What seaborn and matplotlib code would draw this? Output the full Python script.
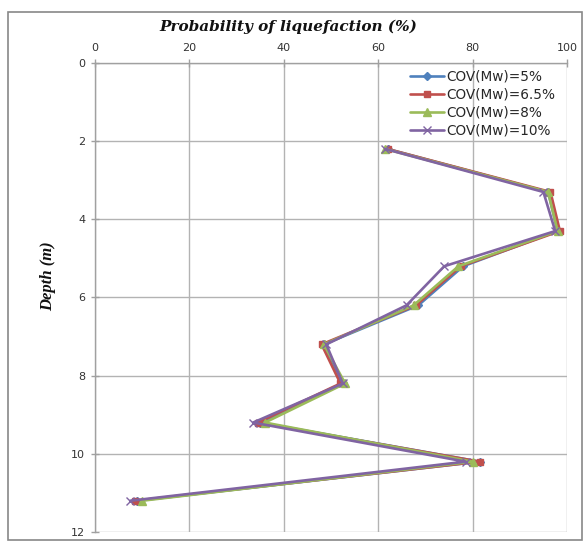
import matplotlib
matplotlib.use("Agg")
import matplotlib.pyplot as plt
import seaborn as sns
import pandas as pd
from matplotlib.patches import Rectangle

depth = [2.2, 3.3, 4.3, 5.2, 6.2, 7.2, 8.2, 9.2, 10.2, 11.2]
cov5 = [62, 96, 98, 78, 68.5, 48.5, 52.5, 35, 81.5, 9]
cov65 = [62, 96.5, 98.5, 77.5, 68, 48, 52, 34.5, 81.5, 8.5]
cov8 = [61.5, 96, 98, 77, 67.5, 48.5, 53, 36, 80, 10]
cov10 = [61.5, 95, 97.5, 74, 66, 49, 52.5, 33.5, 78.5, 7.5]
labels = ["COV(Mw)=5%", "COV(Mw)=6.5%", "COV(Mw)=8%", "COV(Mw)=10%"]
colors = ["#4F81BD", "#C0504D", "#9BBB59", "#8064A2"]
markers = ["D", "s", "^", "x"]
msizes = [4, 5, 5.5, 6]

sns.set_style("white")
fig = plt.figure(figsize=(5.87, 5.44), dpi=100)
ax = fig.add_axes([95 / 587, 1 - 532 / 544, (567 - 95) / 587, (532 - 63) / 544])

for lab, vals, c, m, ms in zip(labels, [cov5, cov65, cov8, cov10], colors, markers, msizes):
    df = pd.DataFrame({"prob": vals, "depth": depth})
    sns.lineplot(data=df, x="prob", y="depth", sort=False, estimator=None, ax=ax,
                 color=c, marker=m, markersize=ms, linewidth=1.9, label=lab,
                 markeredgecolor=c, markeredgewidth=1.0)

ax.set_xlim(0, 100)
ax.set_ylim(12, 0)
ax.set_xticks([0, 20, 40, 60, 80, 100])
ax.set_yticks([0, 2, 4, 6, 8, 10, 12])
ax.xaxis.tick_top()
ax.xaxis.set_label_position("top")
ax.grid(True, color="#b3b3b3", linewidth=1.0)
for s in ["right", "bottom"]:
    ax.spines[s].set_visible(False)
for s in ["left", "top"]:
    ax.spines[s].set_color("#a0a0a0")
    ax.spines[s].set_linewidth(1.0)
ax.tick_params(axis="both", direction="inout", length=6, width=1, color="#a0a0a0",
               labelsize=8, labelcolor="#333333", pad=4)
ax.tick_params(axis="x", top=True, bottom=False)
ax.tick_params(axis="y", left=True, right=False)
ax.set_xlabel("")
ax.set_ylabel("")

fig.text(48 / 587, 1 - 276 / 544, "Depth (m)", ha="center", va="center", rotation=90,
         fontfamily="Liberation Serif", fontstyle="italic", fontweight="bold",
         fontsize=12, color="#111111")

fig.text(288 / 587, 1 - 27 / 544, "Probability of liquefaction (%)", ha="center", va="center",
         fontfamily="DejaVu Serif", fontstyle="italic", fontweight="bold", fontsize=11,
         color="#111111")

leg = ax.legend(loc="upper left", bbox_to_anchor=((405 - 95) / 472, 1 - (64 - 63) / 469),
                frameon=False, fontsize=9.8, handlelength=2.5, handletextpad=0.15,
                labelspacing=0.3, borderaxespad=0)

fig.patches.append(Rectangle((8 / 587, 4 / 544), (582 - 8) / 587, (532 - 4) / 544,
                             transform=fig.transFigure, fill=False, edgecolor="#888888",
                             linewidth=1.2))

fig.savefig("out.png", dpi=100)
